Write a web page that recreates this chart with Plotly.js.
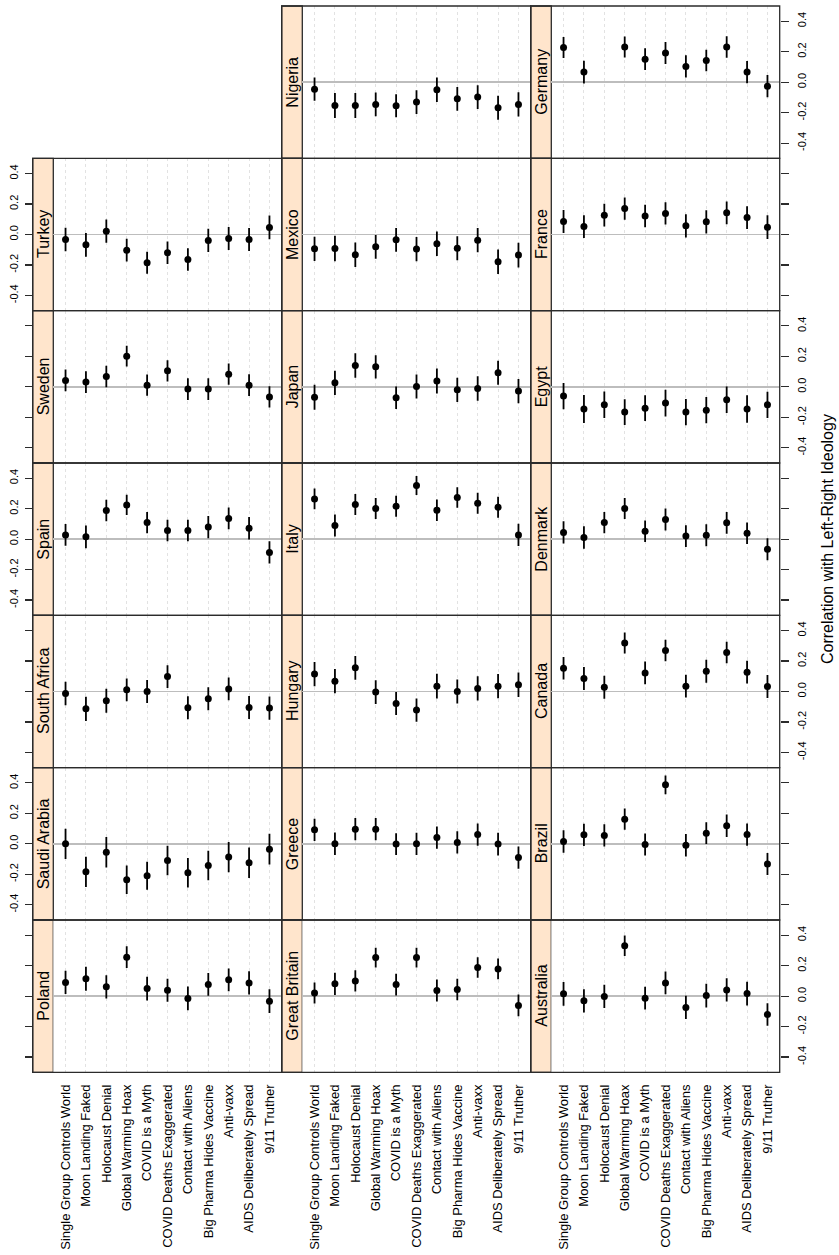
<!DOCTYPE html>
<html><head><meta charset="utf-8">
<script src="https://cdn.plot.ly/plotly-3.0.1.min.js"></script>
<style>html,body{margin:0;padding:0;background:#fff}#chart{width:839px;height:1255px}</style>
</head><body><div id="chart"></div>
<script>
const categories = ["Single Group Controls World","Moon Landing Faked","Holocaust Denial","Global Warming Hoax","COVID is a Myth","COVID Deaths Exaggerated","Contact with Aliens","Big Pharma Hides Vaccine","Anti-vaxx","AIDS Deliberately Spread","9/11 Truther"];
const tickValues = [-0.4,-0.2,0,0.2,0.4];
const tickLabels = ["-0.4","-0.2","0.0","0.2","0.4"];
const axisTitle = "Correlation with Left-Right Ideology";

const turkey       = [-0.033,-0.068,0.022,-0.103,-0.186,-0.12,-0.164,-0.039,-0.026,-0.033,0.046];
const turkeyCI     = [0.077,0.078,0.077,0.075,0.072,0.074,0.074,0.076,0.076,0.076,0.078];
const sweden       = [0.042,0.031,0.068,0.201,0.011,0.105,-0.015,-0.015,0.083,0.011,-0.066];
const swedenCI     = [0.071,0.071,0.070,0.068,0.070,0.070,0.071,0.071,0.070,0.072,0.070];
const spain        = [0.028,0.015,0.188,0.225,0.109,0.057,0.057,0.079,0.136,0.072,-0.087];
const spainCI      = [0.071,0.075,0.070,0.066,0.070,0.071,0.071,0.073,0.071,0.074,0.073];
const southAfrica  = [-0.013,-0.114,-0.061,0.011,0.0,0.098,-0.107,-0.048,0.017,-0.105,-0.109];
const southAfricaCI= [0.077,0.080,0.079,0.075,0.075,0.075,0.075,0.075,0.075,0.076,0.076];
const saudiArabia  = [0.0,-0.184,-0.055,-0.236,-0.21,-0.109,-0.19,-0.142,-0.087,-0.125,-0.035];
const saudiArabiaCI= [0.099,0.099,0.100,0.094,0.092,0.097,0.097,0.097,0.099,0.100,0.101];
const poland       = [0.09,0.114,0.061,0.256,0.05,0.039,-0.015,0.077,0.107,0.087,-0.033];
const polandCI     = [0.076,0.079,0.076,0.071,0.078,0.076,0.078,0.075,0.075,0.076,0.078];
const nigeria      = [-0.046,-0.153,-0.153,-0.146,-0.155,-0.131,-0.05,-0.109,-0.098,-0.168,-0.146];
const nigeriaCI    = [0.076,0.082,0.082,0.078,0.075,0.078,0.080,0.078,0.078,0.078,0.079];
const mexico       = [-0.094,-0.092,-0.133,-0.081,-0.035,-0.096,-0.061,-0.09,-0.037,-0.179,-0.135];
const mexicoCI     = [0.080,0.083,0.080,0.078,0.078,0.079,0.080,0.079,0.080,0.080,0.081];
const japan        = [-0.068,0.026,0.14,0.131,-0.072,0.002,0.039,-0.02,-0.011,0.092,-0.028];
const japanCI      = [0.082,0.080,0.080,0.076,0.074,0.079,0.082,0.080,0.081,0.079,0.080];
const italy        = [0.264,0.09,0.227,0.201,0.216,0.352,0.19,0.273,0.236,0.21,0.028];
const italyCI      = [0.068,0.072,0.069,0.069,0.069,0.062,0.071,0.067,0.069,0.069,0.073];
const hungary      = [0.114,0.068,0.155,-0.004,-0.079,-0.122,0.035,0.0,0.02,0.035,0.044];
const hungaryCI    = [0.079,0.079,0.078,0.078,0.076,0.076,0.081,0.079,0.080,0.080,0.080];
const greece       = [0.092,0.0,0.096,0.096,-0.002,0.0,0.041,0.009,0.061,-0.002,-0.09];
const greeceCI     = [0.073,0.074,0.073,0.073,0.072,0.073,0.073,0.073,0.073,0.074,0.073];
const greatBritain = [0.02,0.081,0.1,0.253,0.076,0.253,0.037,0.044,0.188,0.179,-0.061];
const greatBritainCI=[0.069,0.073,0.070,0.065,0.071,0.065,0.072,0.071,0.067,0.068,0.071];
const germany      = [0.227,0.066,null,0.231,0.151,0.192,0.103,0.142,0.231,0.066,-0.026];
const germanyCI    = [0.069,0.074,null,0.069,0.071,0.072,0.073,0.071,0.070,0.073,0.073];
const france       = [0.085,0.052,0.127,0.17,0.122,0.138,0.057,0.083,0.142,0.111,0.048];
const franceCI     = [0.076,0.075,0.075,0.073,0.074,0.073,0.076,0.076,0.075,0.075,0.078];
const egypt        = [-0.061,-0.146,-0.118,-0.166,-0.14,-0.107,-0.166,-0.153,-0.085,-0.146,-0.118];
const egyptCI      = [0.086,0.092,0.087,0.084,0.085,0.087,0.086,0.086,0.087,0.090,0.086];
const denmark      = [0.044,0.011,0.109,0.201,0.052,0.129,0.02,0.026,0.107,0.039,-0.066];
const denmarkCI    = [0.073,0.074,0.070,0.069,0.071,0.073,0.072,0.072,0.072,0.071,0.072];
const canada       = [0.153,0.085,0.028,0.319,0.122,0.269,0.035,0.133,0.256,0.127,0.033];
const canadaCI     = [0.074,0.075,0.075,0.069,0.075,0.070,0.075,0.076,0.071,0.074,0.075];
const brazil       = [0.015,0.059,0.055,0.162,-0.004,0.387,-0.009,0.07,0.118,0.061,-0.133];
const brazilCI     = [0.074,0.073,0.073,0.070,0.072,0.062,0.074,0.072,0.074,0.073,0.072];
const australia    = [0.015,-0.031,-0.002,0.331,-0.013,0.087,-0.074,0.004,0.041,0.017,-0.12];
const australiaCI  = [0.078,0.076,0.076,0.067,0.075,0.075,0.076,0.078,0.076,0.078,0.074];

// panel list: name, estimates, CI half-widths, column, row
const panels = [
  ["Turkey", turkey, turkeyCI, 0, 1],
  ["Sweden", sweden, swedenCI, 0, 2],
  ["Spain", spain, spainCI, 0, 3],
  ["South Africa", southAfrica, southAfricaCI, 0, 4],
  ["Saudi Arabia", saudiArabia, saudiArabiaCI, 0, 5],
  ["Poland", poland, polandCI, 0, 6],
  ["Nigeria", nigeria, nigeriaCI, 1, 0],
  ["Mexico", mexico, mexicoCI, 1, 1],
  ["Japan", japan, japanCI, 1, 2],
  ["Italy", italy, italyCI, 1, 3],
  ["Hungary", hungary, hungaryCI, 1, 4],
  ["Greece", greece, greeceCI, 1, 5],
  ["Great Britain", greatBritain, greatBritainCI, 1, 6],
  ["Germany", germany, germanyCI, 2, 0],
  ["France", france, franceCI, 2, 1],
  ["Egypt", egypt, egyptCI, 2, 2],
  ["Denmark", denmark, denmarkCI, 2, 3],
  ["Canada", canada, canadaCI, 2, 4],
  ["Brazil", brazil, brazilCI, 2, 5],
  ["Australia", australia, australiaCI, 2, 6]
];

const W = 839, H = 1255;
const colLeft = [32.7, 281.7, 530.7];
const stripW = 20.6, colW = 249;
const rowTop0 = 6, rowH = 152.33;
const FONT = "Liberation Sans, Arial, Helvetica, sans-serif";
const BORDER = "#2b2b2b";

const data = [];
const layout = {
  width: W, height: H,
  margin: {l: 0, r: 0, t: 0, b: 0},
  paper_bgcolor: "#fff", plot_bgcolor: "#fff",
  showlegend: false,
  font: {family: FONT, color: "#000"},
  shapes: [], annotations: []
};

panels.forEach((p, i) => {
  const [name, est, ci, col, row] = p;
  const k = i + 1;
  const xk = k === 1 ? "x" : "x" + k;
  const yk = k === 1 ? "y" : "y" + k;
  const L = colLeft[col];
  const T = rowTop0 + row * rowH;
  const B = T + rowH;
  const x0 = L + stripW, x1 = L + colW;

  data.push({
    type: "scatter", mode: "markers",
    x: categories, y: est,
    xaxis: xk, yaxis: yk,
    marker: {color: "#000", size: 7},
    error_y: {type: "data", array: ci, symmetric: true, visible: true,
              color: "#000", thickness: 1.8, width: 0},
    hoverinfo: "skip", cliponaxis: false
  });

  const bottomRow = row === 6;
  layout["xaxis" + (k === 1 ? "" : k)] = {
    domain: [x0 / W, x1 / W],
    anchor: yk,
    type: "category",
    categoryorder: "array", categoryarray: categories,
    range: [-0.6, 10.6],
    showgrid: true, gridcolor: "#e2e2e2", griddash: "dot", gridwidth: 1,
    showline: false,
    zeroline: false,
    showticklabels: bottomRow,
    tickangle: -90,
    ticks: bottomRow ? "outside" : "",
    ticklen: 6, tickcolor: "rgba(0,0,0,0)",
    tickfont: {size: 13, family: FONT, color: "#000"},
    fixedrange: true
  };

  const yax = {
    domain: [1 - B / H, 1 - T / H],
    range: [-0.5, 0.5],
    tickvals: tickValues, ticktext: tickLabels,
    ticks: "", ticklen: 8, tickwidth: 1.2, tickcolor: BORDER,
    showticklabels: false,
    tickangle: -90,
    tickfont: {size: 11, family: FONT, color: "#000"},
    showgrid: false,
    zeroline: true, zerolinecolor: "#bdbdbd", zerolinewidth: 1.4,
    showline: false,
    fixedrange: true
  };
  if (col === 0) {
    yax.anchor = "free"; yax.position = L / W; yax.side = "left";
    yax.ticks = "outside"; yax.showticklabels = (row % 2 === 1);
    yax.ticklabelstandoff = 2;
  } else if (col === 2) {
    yax.anchor = xk; yax.side = "right";
    yax.ticks = "outside"; yax.showticklabels = (row % 2 === 0);
    yax.ticklabelstandoff = 4;
  } else {
    yax.anchor = xk;
  }
  layout["yaxis" + (k === 1 ? "" : k)] = yax;

  layout.shapes.push({
    type: "rect", xref: "paper", yref: "paper",
    x0: L / W, x1: (L + stripW) / W,
    y0: 1 - B / H, y1: 1 - T / H,
    fillcolor: "#FFE5CC", line: {color: BORDER, width: 1.3}, layer: "below"
  });
  layout.shapes.push({
    type: "rect", xref: "paper", yref: "paper",
    x0: L / W, x1: (L + colW) / W,
    y0: 1 - B / H, y1: 1 - T / H,
    fillcolor: "rgba(0,0,0,0)", line: {color: BORDER, width: 1.3}, layer: "above"
  });
  layout.annotations.push({
    xref: "paper", yref: "paper",
    x: (L + stripW / 2 + 0.5) / W, y: 1 - (T + rowH / 2) / H,
    text: name, textangle: -90, showarrow: false,
    xanchor: "center", yanchor: "middle",
    font: {size: 16, family: FONT, color: "#000"}
  });
});

layout.annotations.push({
  xref: "paper", yref: "paper",
  x: 828 / W, y: 1 - 539 / H,
  text: axisTitle, textangle: -90, showarrow: false,
  xanchor: "center", yanchor: "middle",
  font: {size: 16, family: FONT, color: "#000"}
});

Plotly.newPlot("chart", data, layout, {displayModeBar: false, staticPlot: true});
</script>
</body></html>
